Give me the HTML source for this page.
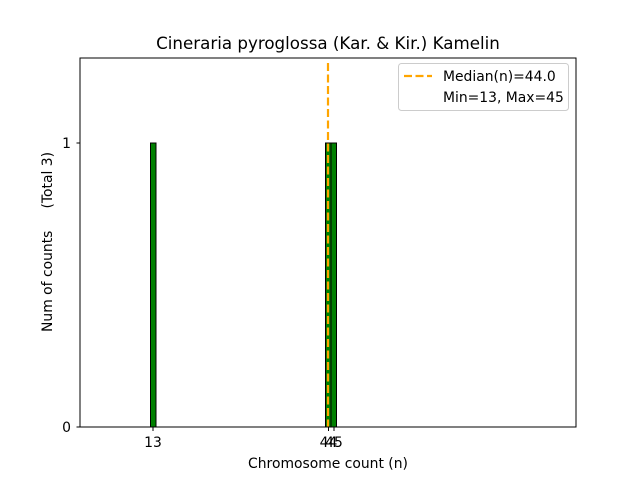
<!DOCTYPE html>
<html><head><style>body{margin:0;background:#fff}svg{display:block}text{font-family:"DejaVu Sans","Liberation Sans",sans-serif;fill:#000;white-space:pre}</style></head><body>
<svg width="640" height="480" viewBox="0 0 640 480">
<rect width="640" height="480" fill="#fff"/>
<text x="328" y="49" font-size="16.7" text-anchor="middle">Cineraria pyroglossa (Kar. &amp; Kir.) Kamelin</text>
<line x1="77" y1="427" x2="352" y2="427" stroke="#aaa" stroke-width="1"/>
<rect x="150.5" y="143" width="5.5" height="284" fill="green" stroke="#000" stroke-width="1"/>
<rect x="325.5" y="143" width="5.5" height="284" fill="green" stroke="#000" stroke-width="1"/>
<rect x="331" y="143" width="5.5" height="284" fill="green" stroke="#000" stroke-width="1"/>
<line x1="328" y1="63" x2="328" y2="427" stroke="orange" stroke-width="2.2" stroke-dasharray="8,3.5"/>
<rect x="80" y="58" width="496" height="369" fill="none" stroke="#000" stroke-width="1"/>
<g stroke="#000"><line x1="76.5" y1="427" x2="80" y2="427"/><line x1="76.5" y1="143" x2="80" y2="143"/>
<line x1="153" y1="427" x2="153" y2="431"/><line x1="328.5" y1="427" x2="328.5" y2="431"/><line x1="334" y1="427" x2="334" y2="431"/></g>
<text x="71" y="432" font-size="13.9" text-anchor="end">0</text>
<text x="71" y="148" font-size="13.9" text-anchor="end">1</text>
<text x="153" y="447" font-size="13.9" text-anchor="middle">13</text>
<text x="328.5" y="447" font-size="13.9" text-anchor="middle">44</text>
<text x="334" y="447" font-size="13.9" text-anchor="middle">45</text>
<text x="328" y="468" font-size="13.9" text-anchor="middle">Chromosome count (n)</text>
<text transform="translate(52,242) rotate(-90)" font-size="13.9" text-anchor="middle">Num of counts     (Total 3)</text>
<rect x="398.5" y="63.5" width="170" height="47" rx="3" fill="#fff" stroke="#ccc"/>
<line x1="404" y1="76" x2="432" y2="76" stroke="orange" stroke-width="2.2" stroke-dasharray="8,3.5"/>
<text x="443" y="81" font-size="13.9">Median(n)=44.0</text>
<text x="443" y="102" font-size="13.9">Min=13, Max=45</text>
</svg>
</body></html>
